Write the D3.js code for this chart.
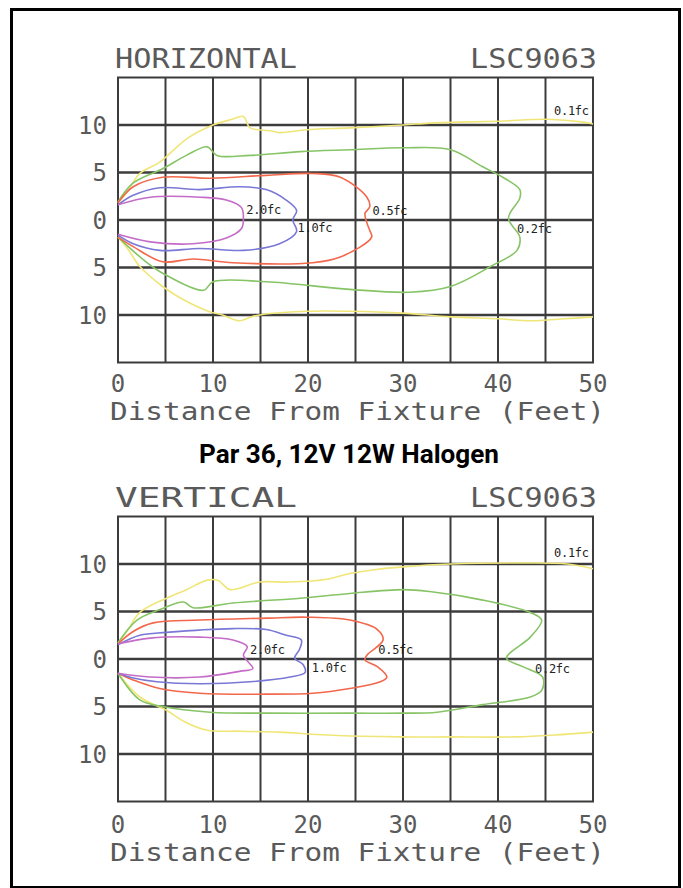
<!DOCTYPE html>
<html><head><meta charset="utf-8">
<script src="https://cdn.jsdelivr.net/npm/d3@7"></script>
<style>body{margin:0;background:#fff}svg{display:block}</style>
</head><body>
<script>
// ---------- data ----------
const xTicks = [0, 10, 20, 30, 40, 50];
const yTickVals = [10, 5, 0, -5, -10];
const yTickLabels = ["10", "5", "0", "5", "10"];
const gridX = [0,5,10,15,20,25,30,35,40,45,50];
const gridY = [15,10,5,0,-5,-10,-15];
const subtitle = "Par 36, 12V 12W Halogen";
const xLabel = "Distance From Fixture (Feet)";

// Horizontal chart contours [feet, feet]
const hYellowUpper = [[0,1.8],[1,3],[2.3,4.9],[4.4,6.1],[7.3,8.6],[10,10],[12,10.6],[13.2,10.9],[13.9,9.7],[16,9.4],[17,9.2],[19.9,9.5],[24.4,9.7],[30,10],[32.8,10.2],[36,10.3],[40.2,10.4],[45.2,10.6],[49,10.3],[50,10.1]];
const hYellowLower = [[0,-1.8],[1,-3],[2.3,-4.9],[4.7,-7],[6.9,-8.4],[9.5,-9.6],[11,-10],[12.8,-10.6],[14,-10.2],[15.5,-9.9],[20,-9.6],[24.4,-9.6],[30,-9.8],[35,-10.2],[40,-10.4],[43.4,-10.6],[47,-10.4],[50,-10.2]];
const hGreen = [[0,1.9],[1.6,3.9],[4.7,5.4],[7.2,6.8],[9.4,7.7],[10.4,6.8],[13.9,6.8],[19.2,7.2],[24.4,7.4],[30,7.6],[35,7.4],[38.4,5.6],[40.5,4.5],[42.3,3.2],[42.3,2.3],[41.1,0.2],[42.3,-1.8],[42,-3.2],[39.2,-4.9],[35,-7],[30.7,-7.6],[24.4,-7.3],[15.6,-6.5],[10,-6.5],[9,-7.4],[4.7,-5.6],[2.7,-4.2],[0,-1.8]];
const hRed = [[0,1.8],[1.6,3.5],[4.7,4.5],[9.7,4.4],[15.6,4.7],[20.5,4.9],[23.4,4.5],[26.2,2.4],[26.5,1.4],[26,0.7],[26.2,-0.3],[26.5,-1.1],[26.7,-1.8],[23.4,-3.9],[20.5,-4.5],[12.1,-4.5],[7.9,-4.1],[4.7,-4.4],[1.6,-2.8],[0,-1.8]];
const hBlue = [[0,1.6],[1.6,2.6],[4.4,3.4],[8.6,3.2],[12.8,3.5],[15.6,3.2],[17.7,2.1],[18.8,1.0],[18.4,0],[18.8,-1.2],[17,-2.5],[13.2,-3.2],[8.6,-3],[4.4,-3.2],[1.6,-2.5],[0,-1.6]];
const hPurple = [[0,1.6],[3.4,2.4],[8.6,2.4],[11.4,2.1],[13,1.3],[13.2,0],[13,-0.9],[11.4,-1.9],[7.9,-2.5],[3.4,-2.3],[0,-1.5]];
const hLabels = [["2.0fc",13.5,1.05],["1.0fc",18.9,-0.85],["0.5fc",26.8,0.95],["0.2fc",42,-0.95],["0.1fc",45.9,11.5]];

// Vertical chart contours
const vYellowUpper = [[0,1.7],[1,3],[2.3,4.9],[5.1,6.4],[7.2,7.3],[9.4,8.3],[10.5,8.3],[11.8,7.3],[14.9,8.1],[18,8.1],[22,8.4],[24.4,9],[27,9.4],[30,9.7],[35,10],[42,10.1],[47.3,10],[50,9.5]];
const vYellowLower = [[0,-1.5],[2.3,-4],[5.1,-5.4],[7,-6.6],[9.4,-7.5],[13,-7.6],[17,-7.7],[22,-8],[29.7,-8.2],[35,-8.2],[42,-8.2],[46,-8],[50,-7.7]];
const vGreen = [[0,1.7],[2,4.1],[4.4,5.2],[6.9,6],[7.9,5.4],[12.1,5.9],[19.2,6.4],[24.4,6.9],[30,7.3],[32.8,7.1],[38.4,6.2],[43.4,4.9],[44.6,4.1],[43.4,2.3],[40.9,0.1],[42.6,-0.8],[44.7,-1.9],[44.6,-3.3],[43.4,-4],[38.4,-4.8],[33.6,-5.6],[30,-5.7],[24.4,-5.7],[15.6,-5.7],[9.7,-5.6],[4.7,-5],[2.3,-4.3],[0,-1.5]];
const vRed = [[0,1.6],[1.6,2.9],[3.7,3.8],[8.6,4.1],[15.6,4.3],[19.9,4.4],[24.4,4.1],[27.3,3.1],[27.9,2],[26.2,0.4],[26,-0.1],[27.3,-0.8],[28.3,-1.9],[27.6,-2.4],[24.4,-3.1],[20.5,-3.6],[15.6,-3.7],[8.6,-3.6],[4.4,-3.1],[1.6,-2.2],[0,-1.5]];
const vBlue = [[0,1.5],[2.3,2.5],[5.1,2.8],[12.1,3.2],[15.6,3.1],[17.7,2.5],[19.3,2],[19.1,1],[18.6,0.1],[19.5,-0.6],[19.7,-1.4],[18.1,-1.9],[13.9,-2.4],[8.6,-2.6],[4.1,-2.4],[1.6,-2],[0,-1.5]];
const vPurple = [[0,1.6],[3.4,2.2],[8.6,2.3],[12.1,2],[13.6,1.3],[13.2,0.4],[13.7,-0.3],[14.2,-1],[12.8,-1.3],[8.6,-1.9],[3.4,-1.9],[0,-1.5]];
const vLabels = [["2.0fc",13.9,0.95],["1.0fc",20.4,-0.95],["0.5fc",27.4,0.95],["0.2fc",43.9,-1.05],["0.1fc",45.9,11.2]];

const colors = {yellow:"#f0e678", green:"#86c466", red:"#f2684c", blue:"#7a78d6", purple:"#c46cc8"};

// ---------- drawing ----------
const W = 683, H = 888;
const svg = d3.select("body").append("svg").attr("width", W).attr("height", H);
svg.append("rect").attr("x",11.5).attr("y",9.5).attr("width",668).attr("height",878)
  .attr("fill","none").attr("stroke","#000").attr("stroke-width",3);

const cad = "'DejaVu Sans Mono', 'Liberation Mono', monospace";
const txt = "#5a5a5a";

function chart(y0, title, contours, labels, xTickBase, xLabelBase) {
  const x = d3.scaleLinear().domain([0,50]).range([118,593]);
  const y = d3.scaleLinear().domain([15,-15]).range([y0-142.5, y0+142.5]);
  const g = svg.append("g");

  // grid
  g.selectAll(".gx").data(gridX).join("line")
    .attr("x1",d=>x(d)).attr("x2",d=>x(d)).attr("y1",y(15)).attr("y2",y(-15))
    .attr("stroke","#3c3c3c").attr("stroke-width",2);
  g.selectAll(".gy").data(gridY).join("line")
    .attr("x1",x(0)-1).attr("x2",x(50)+1).attr("y1",d=>y(d)).attr("y2",d=>y(d))
    .attr("stroke","#3c3c3c").attr("stroke-width",d=>Math.abs(d)===15?2:2.6);

  // contours
  const line = d3.line().x(d=>x(d[0])).y(d=>y(d[1])).curve(d3.curveCatmullRom.alpha(0.5));
  contours.forEach(([pts,c]) => {
    g.append("path").attr("d", line(pts)).attr("fill","none")
      .attr("stroke", colors[c]).attr("stroke-width",1.6).attr("stroke-linejoin","round");
  });

  // contour labels
  g.selectAll(".lbl").data(labels).join("text")
    .attr("x",d=>x(d[1])).attr("y",d=>y(d[2])).attr("dy","0.35em")
    .attr("font-family",cad).attr("font-size",12).attr("fill","#222")
    .attr("letter-spacing",-0.3).text(d=>d[0]);

  // titles
  g.append("text").attr("x",115).attr("y",y0-152).attr("font-family",cad).attr("font-size",27)
    .attr("fill",txt).attr("textLength",182).attr("lengthAdjust","spacingAndGlyphs").text(title);
  g.append("text").attr("x",597).attr("y",y0-152).attr("text-anchor","end").attr("font-family",cad).attr("font-size",27)
    .attr("fill",txt).attr("textLength",127).attr("lengthAdjust","spacingAndGlyphs").text("LSC9063");

  // y tick labels
  g.selectAll(".yt").data(yTickVals).join("text")
    .attr("x",107).attr("y",d=>y(d)).attr("dy","0.36em").attr("text-anchor","end")
    .attr("font-family",cad).attr("font-size",24).attr("fill",txt)
    .text((d,i)=>yTickLabels[i]);

  // x tick labels
  g.selectAll(".xt").data(xTicks).join("text")
    .attr("x",d=>x(d)).attr("y",xTickBase).attr("text-anchor","middle")
    .attr("font-family",cad).attr("font-size",24).attr("fill",txt).text(d=>d);

  g.append("text").attr("x",110).attr("y",xLabelBase).attr("font-family",cad).attr("font-size",25)
    .attr("fill",txt).attr("textLength",495).attr("lengthAdjust","spacingAndGlyphs").text(xLabel);
}

chart(220, "HORIZONTAL",
  [[hYellowUpper,"yellow"],[hYellowLower,"yellow"],[hGreen,"green"],[hRed,"red"],[hBlue,"blue"],[hPurple,"purple"]],
  hLabels, 392, 420);

svg.append("text").attr("x",349).attr("y",463).attr("text-anchor","middle")
  .attr("font-family","'Liberation Sans Narrow','Roboto','Liberation Sans',sans-serif")
  .attr("font-weight","bold").attr("font-size",26).attr("fill","#000")
  .attr("textLength",300).attr("lengthAdjust","spacingAndGlyphs").text(subtitle);

chart(659, "VERTICAL",
  [[vYellowUpper,"yellow"],[vYellowLower,"yellow"],[vGreen,"green"],[vRed,"red"],[vBlue,"blue"],[vPurple,"purple"]],
  vLabels, 833, 861);
</script>
</body></html>
